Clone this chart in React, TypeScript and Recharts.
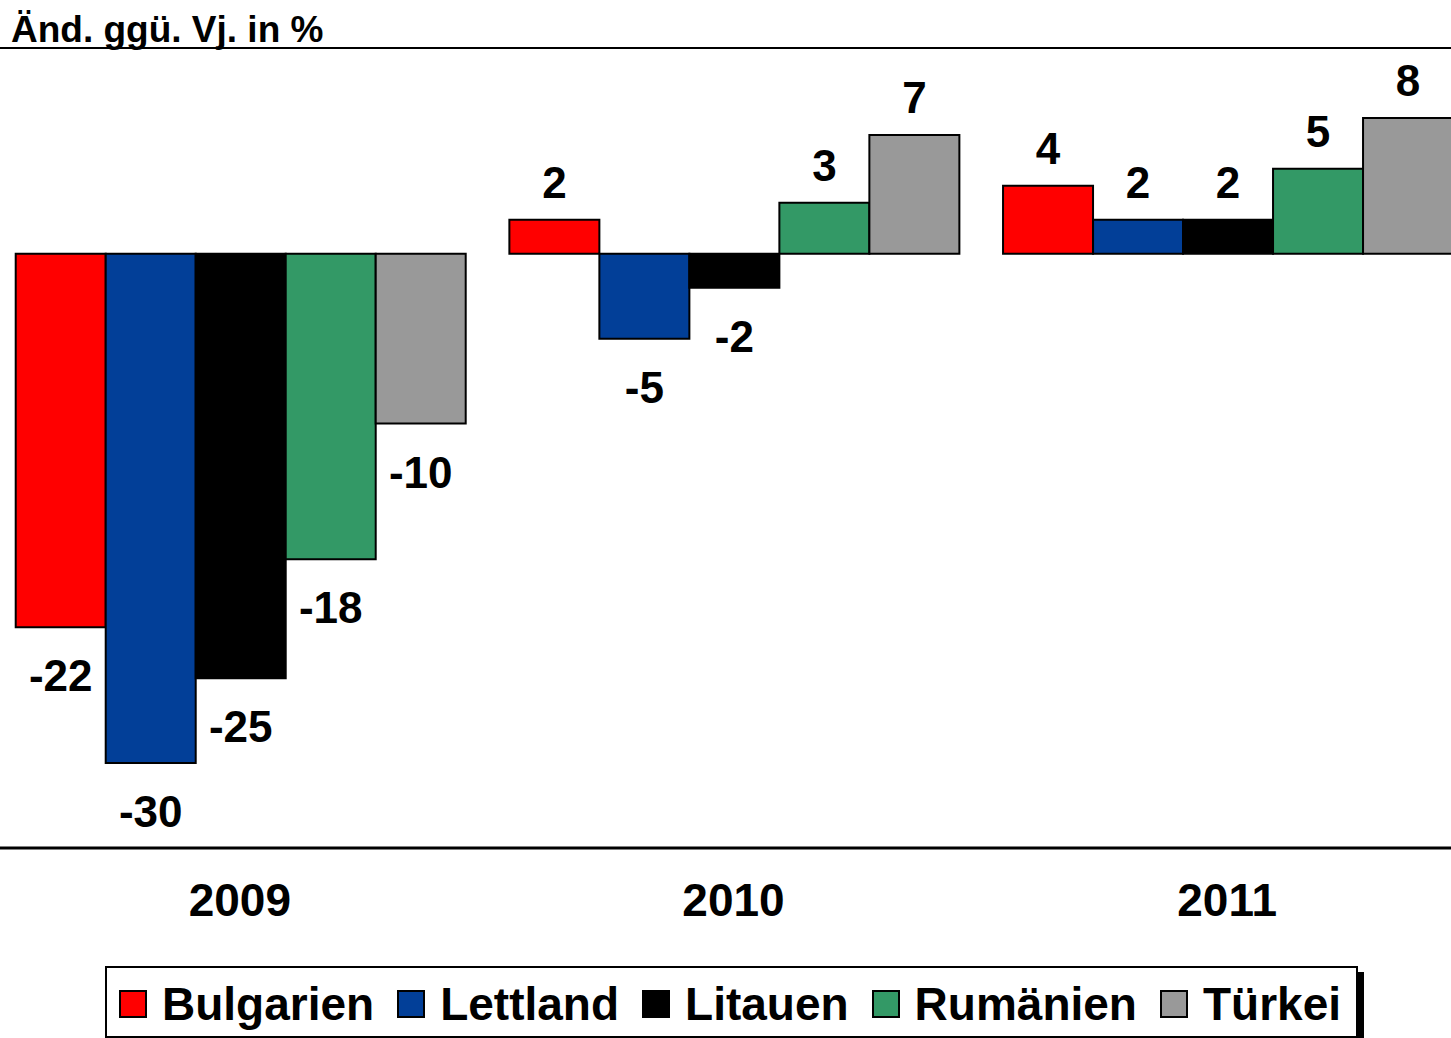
import React from "react";
import { BarChart, Bar, XAxis, YAxis, LabelList } from "recharts";

const categories = ["2009", "2010", "2011"];
const seriesNames = ["Bulgarien", "Lettland", "Litauen", "Rumänien", "Türkei"];
const bulgarien = [-22, 2, 4];
const lettland = [-30, -5, 2];
const litauen = [-25, -2, 2];
const rumaenien = [-18, 3, 5];
const tuerkei = [-10, 7, 8];
const colors = ["#ff0000", "#023f98", "#000000", "#339966", "#999999"];

const FONT = '"Liberation Sans", Arial, Helvetica, sans-serif';

const seriesValues = [bulgarien, lettland, litauen, rumaenien, tuerkei];
const data = categories.map((year, i) => {
  const row: Record<string, string | number> = { year };
  seriesNames.forEach((name, s) => {
    row[name] = seriesValues[s][i];
  });
  return row;
});

function ValueLabel(props: any) {
  const { x, y, width, height, value } = props;
  const top = Math.min(y, y + height);
  const bottom = Math.max(y, y + height);
  const cx = x + width / 2;
  const ty = value >= 0 ? top - 22 : bottom + 64;
  return (
    <text x={cx} y={ty} textAnchor="middle" fontSize={44} fontWeight="bold" fontFamily={FONT} fill="#000">
      {value}
    </text>
  );
}

export default function App() {
  return (
    <div style={{ position: "absolute", left: 0, top: 0, width: 1451, height: 1038, overflow: "hidden", background: "#fff", fontFamily: FONT }}>
      <div
        style={{
          position: "absolute",
          left: 0,
          top: 0,
          width: 1451,
          height: 47,
          borderBottom: "2px solid #000",
        }}
      >
        <span style={{ position: "absolute", left: 11, top: 10, fontSize: 37, fontWeight: "bold", lineHeight: "40px", color: "#000" }}>
          Änd. ggü. Vj. in %
        </span>
      </div>

      <div style={{ position: "absolute", left: -7, top: 0 }}>
        <BarChart
          width={1481}
          height={1038}
          data={data}
          margin={{ top: 50, right: 0, bottom: 90, left: 0 }}
          barCategoryGap="4.6%"
          barGap={0}
        >
          <YAxis hide domain={[-35, 12]} />
          <XAxis
            dataKey="year"
            height={100}
            interval={0}
            tickLine={false}
            tickSize={0}
            tickMargin={35}
            axisLine={{ stroke: "#000", strokeWidth: 3 }}
            tick={{ fontSize: 46, fontWeight: "bold", fill: "#000", fontFamily: FONT }}
          />
          {seriesNames.map((name, s) => (
            <Bar key={name} dataKey={name} fill={colors[s]} stroke="#000" strokeWidth={2} isAnimationActive={false}>
              <LabelList dataKey={name} content={<ValueLabel />} />
            </Bar>
          ))}
        </BarChart>
      </div>

      <div
        style={{
          position: "absolute",
          left: 105,
          top: 966,
          width: 1237,
          height: 64,
          border: "2px solid #000",
          boxShadow: "6px 6px 0 #000",
          background: "#fff",
          display: "flex",
          alignItems: "center",
          paddingLeft: 12,
          paddingTop: 4,
          boxSizing: "content-box",
        }}
      >
        {seriesNames.map((name, s) => (
          <div key={name} style={{ display: "flex", alignItems: "center", marginRight: 23 }}>
            <span
              style={{
                display: "inline-block",
                width: 24,
                height: 24,
                background: colors[s],
                border: "2px solid #000",
                marginRight: 15,
              }}
            />
            <span style={{ fontSize: 46, fontWeight: "bold", color: "#000", lineHeight: "52px" }}>{name}</span>
          </div>
        ))}
      </div>
    </div>
  );
}
